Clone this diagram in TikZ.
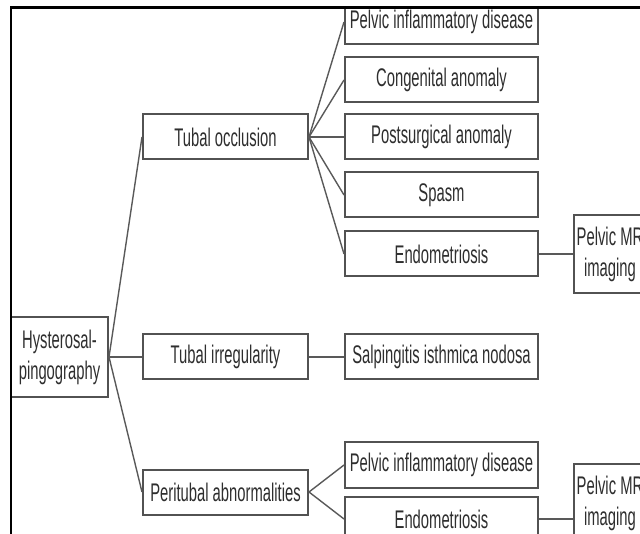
\documentclass[tikz,border=0pt]{standalone}
\usepackage{fontspec}
\setmainfont{Liberation Sans}[FakeStretch=0.58]
\usetikzlibrary{positioning}

\begin{document}
\begin{tikzpicture}[
    x=1pt, y=-1pt,
    font=\fontsize{25.5}{31}\selectfont,
    box/.style={rectangle, draw=black!68, line width=2pt, inner sep=2pt, text=black!82},
    root/.style={box, minimum width=97pt, minimum height=80pt, align=center},
    branch/.style={box, minimum width=165pt, minimum height=45pt},
    cause/.style={box, minimum width=193pt, minimum height=45pt},
    mri/.style={box, minimum width=72pt, minimum height=78pt, inner sep=1pt, align=center},
    link/.style={draw=black!65, line width=1.4pt}
]
    \useasboundingbox (0,0) rectangle (640,534);
    \begin{scope}
    \clip (11,7.5) rectangle (640,534);
    % first column
    \node[root] (hsg) at (59.5,357) {Hysterosal-\\pingography};
    % findings
    \node[branch, right=33pt of hsg] (irreg) {Tubal irregularity};
    \node[branch, above=173pt of irreg] (occl) {Tubal occlusion};
    \node[branch, below=88pt of irreg] (peri) {Peritubal abnormalities};
    % causes of occlusion
    \node[cause, right=35pt of occl] (post) {Postsurgical anomaly};
    \node[cause, above=10pt of post] (cong) {Congenital anomaly};
    \node[cause, above=11pt of cong] (pid1) {Pelvic inflammatory disease};
    \node[cause, below=11pt of post] (spasm) {Spasm};
    \node[cause, below=12pt of spasm] (endo1) {Endometriosis};
    \node[cause, right=35pt of irreg] (sin) {Salpingitis isthmica nodosa};
    \node[cause, right=35pt of peri, yshift=27pt] (pid2) {Pelvic inflammatory disease};
    \node[cause, below=7pt of pid2] (endo2) {Endometriosis};
    % imaging
    \node[mri, right=34pt of endo1] (mr1) {Pelvic MR\\imaging};
    \node[mri, right=34pt of endo2, yshift=16pt] (mr2) {Pelvic MR\\imaging};

    \foreach \b in {occl,irreg,peri}
        \draw[link] (hsg.east) -- (\b.west);
    \foreach \c in {pid1,cong,post,spasm,endo1}
        \draw[link] (occl.east) -- (\c.west);
    \draw[link] (irreg) -- (sin);
    \draw[link] (peri.east) -- (pid2.west);
    \draw[link] (peri.east) -- (endo2.west);
    \draw[link] (endo1.east) -- (endo1.east -| mr1.west);
    \draw[link] (endo2.east) -- (endo2.east -| mr2.west);
    \end{scope}
    \draw[line width=2.5pt] (11,534) -- (11,7.5) -- (640,7.5);
\end{tikzpicture}
\end{document}
